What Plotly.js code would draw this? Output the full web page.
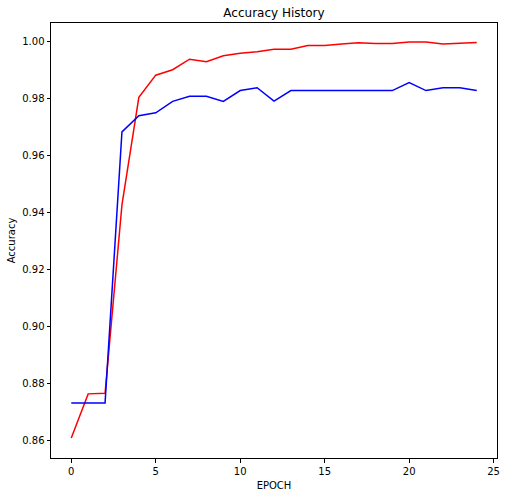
<!DOCTYPE html>
<html>
<head>
<meta charset="utf-8">
<script src="https://cdn.plot.ly/plotly-3.0.1.min.js"></script>
<style>html,body{margin:0;padding:0;background:#fff;}#chart{width:507px;height:496px;}</style>
</head>
<body>
<div id="chart"></div>
<script>
const epochs = [0,1,2,3,4,5,6,7,8,9,10,11,12,13,14,15,16,17,18,19,20,21,22,23,24];
const trainAcc = [0.861,0.8765,0.8767,0.9428,0.9805,0.9883,0.9902,0.9939,0.9930,0.9951,0.9960,0.9965,0.9974,0.9974,0.9987,0.9987,0.9992,0.9997,0.9994,0.9994,0.9999,0.9999,0.9992,0.9996,0.9998];
const valAcc = [0.8733,0.8733,0.8733,0.9684,0.9741,0.9751,0.9791,0.9809,0.9809,0.9791,0.9829,0.9839,0.9792,0.9829,0.9829,0.9829,0.9829,0.9829,0.9829,0.9829,0.9857,0.9829,0.9839,0.9839,0.9829];
const xTicks = [0,5,10,15,20,25];
const yTicks = [0.86,0.88,0.90,0.92,0.94,0.96,0.98,1.00];
const yTickText = ["0.86","0.88","0.90","0.92","0.94","0.96","0.98","1.00"];

const font = {family: "DejaVu Sans", size: 10, color: "#000"};
const traces = [
  {x: epochs, y: trainAcc, type: "scatter", mode: "lines", line: {color: "red", width: 1.5}},
  {x: epochs, y: valAcc, type: "scatter", mode: "lines", line: {color: "blue", width: 1.5}}
];
const axisCommon = {
  showgrid: false, zeroline: false, showline: true, mirror: true,
  linecolor: "#000", linewidth: 1, ticks: "outside", ticklen: 3.5, tickwidth: 1,
  tickcolor: "#000", tickfont: font
};
const layout = {
  width: 507, height: 496,
  margin: {l: 51, r: 10, t: 23, b: 38},
  paper_bgcolor: "#fff", plot_bgcolor: "#fff",
  showlegend: false,
  font: font,
  title: {text: "Accuracy History", font: {family: "DejaVu Sans", size: 12, color: "#000"},
          x: 0.5, xref: "paper", y: 1 - 13/496, yref: "container", yanchor: "middle"},
  xaxis: Object.assign({}, axisCommon, {
    range: [-1.2, 25.2], tickvals: xTicks,
    title: {text: "EPOCH", font: font, standoff: 6}
  }),
  yaxis: Object.assign({}, axisCommon, {
    range: [0.854, 1.0066], tickvals: yTicks, ticktext: yTickText,
    title: {text: "Accuracy", font: font, standoff: 4}
  })
};
Plotly.newPlot("chart", traces, layout, {staticPlot: true, displayModeBar: false});
</script>
</body>
</html>
